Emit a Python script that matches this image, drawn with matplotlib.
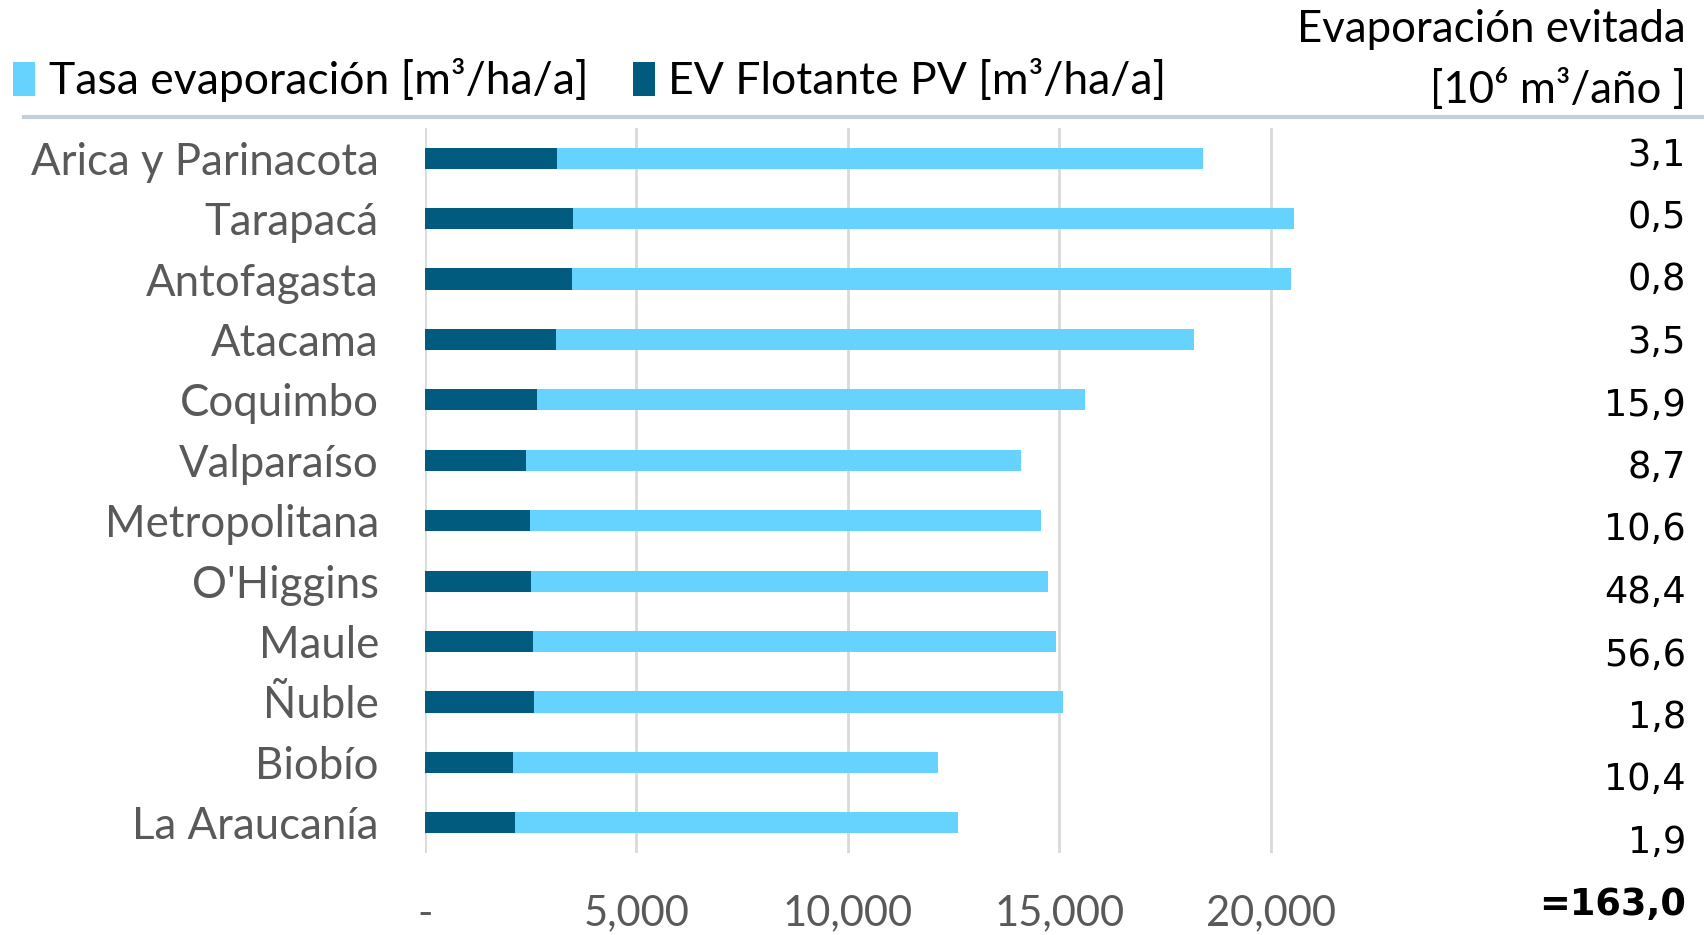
import matplotlib.pyplot as plt
from matplotlib.lines import Line2D

# data
regions = ["Arica y Parinacota", "Tarapacá", "Antofagasta", "Atacama", "Coquimbo",
           "Valparaíso", "Metropolitana", "O'Higgins", "Maule", "Ñuble", "Biobío",
           "La Araucanía"]
tasa_evap = [18390, 20540, 20470, 18190, 15600, 14100, 14570, 14730, 14920, 15080, 12130, 12600]
ev_flotante = [3130, 3500, 3490, 3100, 2650, 2390, 2480, 2510, 2550, 2580, 2080, 2140]
evitada = [3.1, 0.5, 0.8, 3.5, 15.9, 8.7, 10.6, 48.4, 56.6, 1.8, 10.4, 1.9]
evitada_total = 163.0
xticks = [0, 5000, 10000, 15000, 20000]
xtick_labels = ["-", "5,000", "10,000", "15,000", "20,000"]

light = "#66D3FF"
dark = "#005B7F"
gray_txt = "#595959"
W, H = 1704, 935

plt.rcParams["font.family"] = ["Lato", "DejaVu Sans"]

fig = plt.figure(figsize=(W / 100, H / 100), dpi=100)
ax = fig.add_axes([424.7 / W, 1 - 853 / H, 909.8 / W, 725 / H])

y = list(range(len(regions)))
b1 = ax.barh(y, tasa_evap, height=0.35, color=light, zorder=2,
             label="Tasa evaporación [m³/ha/a]")
b2 = ax.barh(y, ev_flotante, height=0.35, color=dark, zorder=3,
             label="EV Flotante PV [m³/ha/a]")

ax.set_ylim(len(regions) - 0.5, -0.5)
ax.set_xlim(0, 21500)
ax.set_yticks(y)
ax.set_yticklabels(regions, fontsize=31.5, color=gray_txt)
ax.set_xticks(xticks)
ax.set_xticklabels(xtick_labels, fontsize=30, color=gray_txt)
ax.tick_params(axis="y", length=0, pad=33)
ax.tick_params(axis="x", length=0, pad=30)
ax.grid(axis="x", color="#D9D9D9", lw=2, zorder=0)
for s in ax.spines.values():
    s.set_visible(False)

# legend across the top
fig.legend(handles=[b1, b2], loc="center left", bbox_to_anchor=(-0.008, 1 - 80 / H),
           ncol=2, frameon=False, fontsize=32, handlelength=0.5, handleheight=0.8,
           handletextpad=0.3, columnspacing=1.0, borderaxespad=0.2)

fig.add_artist(Line2D([24 / W, 1], [1 - 117 / H] * 2, color="#C3CFDA", lw=3))

# right-hand table
fig.text(1686 / W, 1 - 30 / H, "Evaporación evitada", ha="right", va="center", fontsize=31.5)
fig.text(1686 / W, 1 - 90 / H, "[10⁶ m³/año ]", ha="right", va="center", fontsize=31.5)
for k, v in enumerate(evitada):
    fig.text(1686 / W, 1 - (155 + k * 62.5) / H, f"{v:.1f}".replace(".", ","),
             ha="right", va="center", fontsize=26.5, family="DejaVu Sans")
fig.text(1686 / W, 1 - (155 + 12 * 62.5) / H, "=" + f"{evitada_total:.1f}".replace(".", ","),
         ha="right", va="center", fontsize=26.5, family="DejaVu Sans", fontweight="bold")

fig.savefig("out.png", dpi=100)
